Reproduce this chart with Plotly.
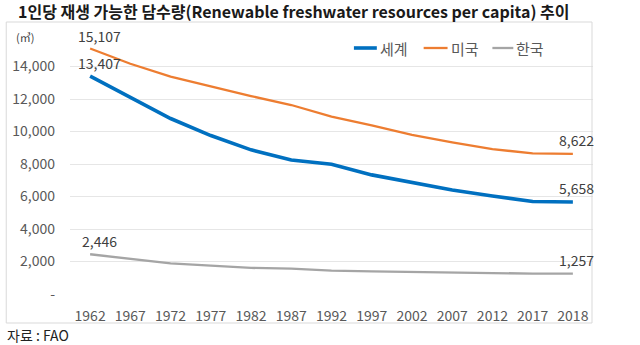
import plotly.graph_objects as go

# 1인당 재생 가능한 담수량 (㎥), FAO
years = ["1962", "1967", "1972", "1977", "1982", "1987", "1992",
         "1997", "2002", "2007", "2012", "2017", "2018"]
world = [13407, 12100, 10800, 9750, 8870, 8250, 7980, 7330, 6840, 6400, 6030, 5690, 5658]
usa = [15107, 14170, 13380, 12760, 12180, 11630, 10920, 10380, 9790, 9330, 8920, 8650, 8622]
korea = [2446, 2154, 1890, 1745, 1605, 1560, 1440, 1395, 1355, 1310, 1265, 1255, 1257]

y_ticks = [0, 2000, 4000, 6000, 8000, 10000, 12000, 14000]
y_tick_text = ["-" if v == 0 else f"{v:,}" for v in y_ticks]

series = [
    ("세계", world, "#0070C0", 3.6),
    ("미국", usa, "#ED7D31", 2.3),
    ("한국", korea, "#A5A5A5", 2.3),
]

FONT = "Malgun Gothic, Noto Sans CJK KR, sans-serif"

# pixel -> paper helpers for the 640x345 canvas (plot area 68..593, 34..294)
def px(x):
    return (x - 68) / 525


def py(y):
    return (294 - y) / 260


fig = go.Figure()
for name, vals, color, width in series:
    fig.add_trace(go.Scatter(
        x=years, y=vals, mode="lines", name=name, showlegend=False,
        line=dict(color=color, width=width),
    ))

# value labels on the first and last point of each series
last = len(years) - 1
for name, vals, color, width in series:
    fig.add_annotation(x=0, y=vals[0], text=f"{vals[0]:,}",
                       xref="x", yref="y", showarrow=False, yshift=13, xshift=9,
                       font=dict(size=14, color="#404040", family=FONT))
    fig.add_annotation(x=last, y=vals[-1], text=f"{vals[-1]:,}",
                       xref="x", yref="y", showarrow=False, yshift=14, xshift=4,
                       font=dict(size=14, color="#404040", family=FONT))

# legend: short line swatch followed by the series name
legend_pos = [(353, 376), (423, 447), (492, 513)]
for (name, vals, color, width), (x0, x1) in zip(series, legend_pos):
    fig.add_shape(type="line", xref="paper", yref="paper",
                  x0=px(x0), x1=px(x1), y0=py(48), y1=py(48),
                  line=dict(color=color, width=width))
    fig.add_annotation(text=name, xref="paper", yref="paper",
                       x=px(x1 + 1), y=py(48), xanchor="left", yanchor="middle",
                       showarrow=False,
                       font=dict(size=15, color="#595959", family=FONT))

# chart title, unit and source
fig.add_annotation(text="<b>1인당 재생 가능한 담수량(Renewable freshwater resources per capita) 추이</b>",
                   xref="paper", yref="paper", x=px(293), y=py(11),
                   xanchor="center", yanchor="middle", showarrow=False,
                   font=dict(size=16, color="#1a1a1a", family=FONT))
fig.add_annotation(text="(㎥)", xref="paper", yref="paper",
                   x=px(12), y=py(37),
                   xanchor="left", yanchor="middle", showarrow=False,
                   font=dict(size=11, color="#404040", family=FONT))
fig.add_annotation(text="자료 : FAO", xref="paper", yref="paper",
                   x=px(3), y=py(335),
                   xanchor="left", yanchor="middle", showarrow=False,
                   font=dict(size=14, color="#222222", family=FONT))

# outer chart frame
fig.add_shape(type="rect", xref="paper", yref="paper",
              x0=px(4), x1=px(592), y0=py(323), y1=py(22),
              line=dict(color="#D9D9D9", width=1), fillcolor="rgba(0,0,0,0)")

fig.update_layout(
    width=640, height=345,
    margin=dict(l=68, r=47, t=34, b=51),
    paper_bgcolor="white", plot_bgcolor="white",
    font=dict(family=FONT, color="#595959", size=14),
    showlegend=False,
    xaxis=dict(type="category", range=[-0.5, 12.5], showgrid=False,
               showline=False, ticks="", ticklabelstandoff=12,
               tickfont=dict(size=14, color="#595959")),
    yaxis=dict(range=[0, 16000], tickvals=y_ticks, ticktext=y_tick_text,
               showgrid=True, gridcolor="#E6E6E6", gridwidth=1.3,
               zeroline=False, showline=False, ticks="", ticklabelstandoff=14,
               tickfont=dict(size=14, color="#595959")),
)

fig.write_html("out.html")
